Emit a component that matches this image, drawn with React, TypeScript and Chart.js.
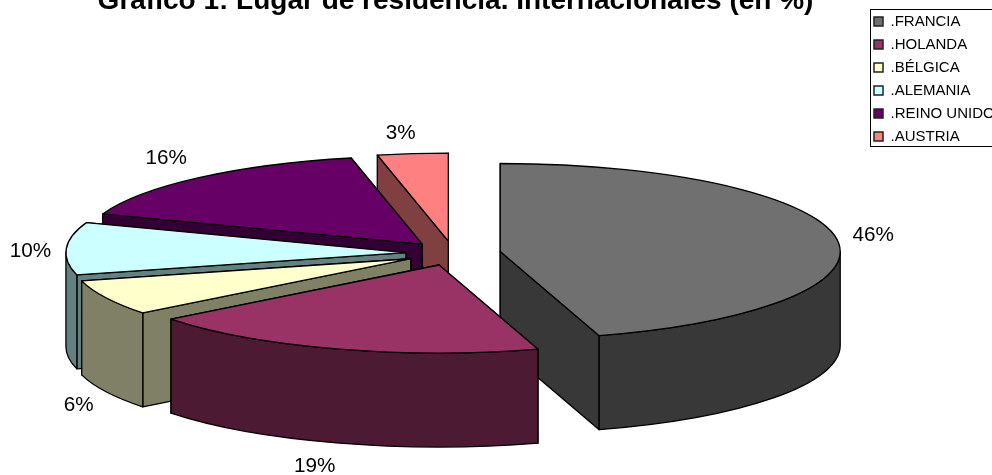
import React, { useEffect, useRef } from "react";
import { Chart, registerables } from "chart.js";

Chart.register(...registerables);

const categories = [".FRANCIA", ".HOLANDA", ".BÉLGICA", ".ALEMANIA", ".REINO UNIDO", ".AUSTRIA"];
const shares = [45.3, 19.15, 6.5, 9.6, 16.1, 3.35];
const percentLabels = ["46%", "19%", "6%", "10%", "16%", "3%"];
const sliceColors = ["#707070", "#993366", "#FFFFCC", "#CCFFFF", "#660066", "#FF8080"];
const wallColors = ["#383838", "#4D1A33", "#808066", "#668080", "#330033", "#804040"];
const titleText = "Gráfico 1: Lugar de residencia. Internacionales (en %)";

const FONT = "'Liberation Sans', Arial, sans-serif";
const CENTER_X = 453.3;
const CENTER_Y = 253.3;
const RX = 340;
const RY = 88;
const DEPTH = 94;
const EXPLODE = 0.1395;

const pie3d = {
  id: "pie3d",
  afterLayout(chart: any) {
    const lg = chart.legend;
    lg.left = 866;
    lg.right = 1010;
    lg.top = 6;
    lg.bottom = 470;
    const t = chart.titleBlock;
    t.left = 0;
    t.right = 911;
    t.top = 0;
    t.bottom = 20;
  },
  beforeDatasetDraw(chart: any) {
    const ctx: CanvasRenderingContext2D = chart.ctx;
    const meta = chart.getDatasetMeta(0);
    const slices = meta.data.map((el: any, i: number) => {
      const a0 = el.startAngle;
      const a1 = el.endAngle;
      const mid = (a0 + a1) / 2;
      return {
        i,
        a0,
        a1,
        mid,
        ax: CENTER_X + Math.cos(mid) * RX * EXPLODE,
        ay: CENTER_Y + Math.sin(mid) * RY * EXPLODE,
      };
    });
    const fromFront = (m: number) => Math.abs(Math.atan2(Math.cos(m), Math.sin(m)));
    const order = [...slices].sort((p, q) => fromFront(q.mid) - fromFront(p.mid));
    ctx.save();
    ctx.lineWidth = 1.3;
    ctx.strokeStyle = "#000";
    ctx.lineJoin = "round";
    for (const s of order) {
      const px = (a: number) => s.ax + Math.cos(a) * RX;
      const py = (a: number) => s.ay + Math.sin(a) * RY;
      const paint = (c: string) => {
        ctx.fillStyle = c;
        ctx.fill();
        ctx.stroke();
      };
      const wall = wallColors[s.i];
      const cuts = [s.a0, s.a1].sort((p, q) => py(p) - py(q));
      for (const a of cuts) {
        ctx.beginPath();
        ctx.moveTo(s.ax, s.ay);
        ctx.lineTo(px(a), py(a));
        ctx.lineTo(px(a), py(a) + DEPTH);
        ctx.lineTo(s.ax, s.ay + DEPTH);
        ctx.closePath();
        paint(wall);
      }
      // outer wall: the part of the arc on the viewer's side
      for (const k of [0, 2, -2]) {
        const u = Math.max(s.a0, k * Math.PI);
        const v = Math.min(s.a1, (k + 1) * Math.PI);
        if (v <= u) continue;
        ctx.beginPath();
        ctx.ellipse(s.ax, s.ay, RX, RY, 0, u, v);
        ctx.ellipse(s.ax, s.ay + DEPTH, RX, RY, 0, v, u, true);
        ctx.closePath();
        paint(wall);
      }
      ctx.beginPath();
      ctx.moveTo(s.ax, s.ay);
      ctx.ellipse(s.ax, s.ay, RX, RY, 0, s.a0, s.a1);
      ctx.closePath();
      paint(sliceColors[s.i]);
    }
    ctx.fillStyle = "#000";
    ctx.font = `20.7px ${FONT}`;
    ctx.textAlign = "center";
    ctx.textBaseline = "middle";
    const nudgeX = [3, -9, 7, 2, -7, -6];
    const nudgeY = [-2, -2, 1, 2, -3, 2];
    for (const s of slices) {
      const c = Math.cos(s.mid);
      const d = Math.sin(s.mid);
      const x = s.ax + c * (RX + 36) - 2 + nudgeX[s.i];
      const y = s.ay + d * (RY + 24) + (d > 0.2 ? DEPTH : 0) + 2 + nudgeY[s.i];
      ctx.fillText(percentLabels[s.i], x, y);
    }
    ctx.restore();
    return false;
  },
  afterDraw(chart: any) {
    const ctx: CanvasRenderingContext2D = chart.ctx;
    ctx.save();
    ctx.strokeStyle = "#000";
    ctx.lineWidth = 1;
    ctx.strokeRect(870.5, 9.5, 140, 137);
    ctx.restore();
  },
};

export default function App() {
  const ref = useRef<HTMLCanvasElement>(null);
  useEffect(() => {
    const chart = new Chart(ref.current!, {
      type: "pie",
      data: {
        labels: categories,
        datasets: [
          {
            data: shares,
            backgroundColor: sliceColors,
            borderColor: "#222",
            borderWidth: 1.5,
          },
        ],
      },
      options: {
        responsive: false,
        animation: false,
        layout: { padding: 0 },
        plugins: {
          tooltip: { enabled: false },
          title: {
            display: true,
            text: titleText,
            color: "#000",
            padding: { top: -16, bottom: 0 },
            font: { family: FONT, size: 28, weight: "bold" },
          },
          legend: {
            display: true,
            position: "right",
            align: "start",
            labels: {
              color: "#000",
              boxWidth: 9,
              boxHeight: 9,
              padding: 8,
              font: { family: FONT, size: 15 },
            },
          },
        },
      },
      plugins: [pie3d],
    } as any);
    return () => chart.destroy();
  }, []);
  return (
    <canvas
      ref={ref}
      width={992}
      height={475}
      style={{ position: "absolute", left: 0, top: 0, display: "block" }}
    />
  );
}
